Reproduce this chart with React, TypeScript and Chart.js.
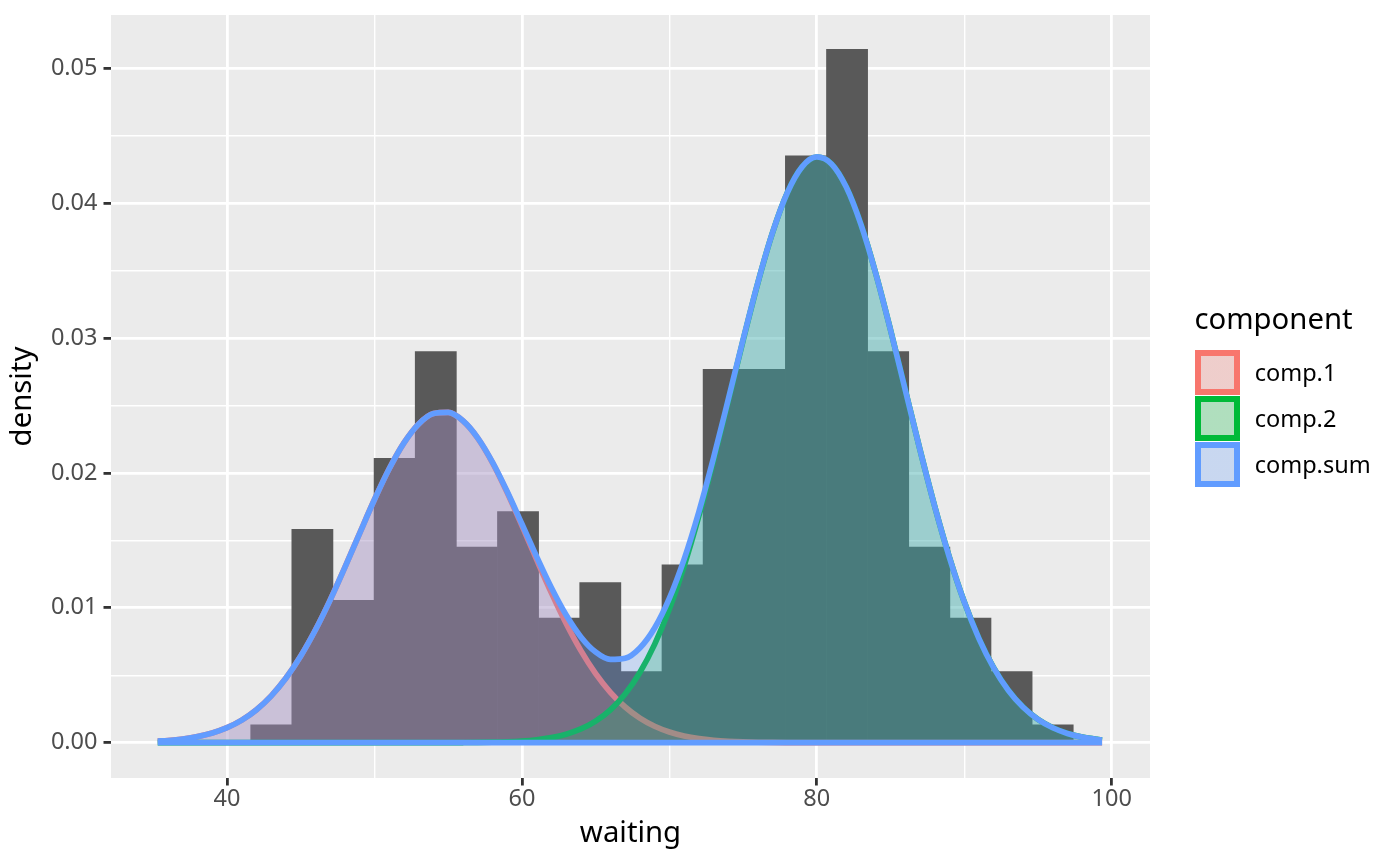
import { useEffect, useRef } from "react"
import { Chart, registerables } from "chart.js"
import type { Plugin } from "chart.js"

Chart.register(...registerables)

// histogram of waiting times (density per bin, 20 bins)
const binCenters = [
  43.0, 45.789, 48.579, 51.368, 54.158, 56.947, 59.737, 62.526, 65.316, 68.105,
  70.895, 73.684, 76.474, 79.263, 82.053, 84.842, 87.632, 90.421, 93.211, 96.0,
]
const binDensity = [
  0.00132, 0.01582, 0.01055, 0.02109, 0.029, 0.0145, 0.01714, 0.00923, 0.01186, 0.00527,
  0.01318, 0.02768, 0.02768, 0.0435, 0.05141, 0.029, 0.0145, 0.00923, 0.00527, 0.00132,
]

// mixture component curves
const curveX = [
  35.3, 36, 37, 38, 39, 40, 41, 42, 43, 44, 45, 46, 47, 48, 49, 50, 51, 52, 53, 54, 55,
  56, 57, 58, 59, 60, 61, 62, 63, 64, 65, 66, 67, 68, 69, 70, 71, 72, 73, 74, 75, 76,
  77, 78, 79, 80, 81, 82, 83, 84, 85, 86, 87, 88, 89, 90, 91, 92, 93, 94, 95, 96, 97,
  98, 99, 99.35,
]
const comp1 = [
  0.00011, 0.000161, 0.000273, 0.000448, 0.000715, 0.001108, 0.001668, 0.002441, 0.00347,
  0.00479, 0.006423, 0.008368, 0.010588, 0.013016, 0.015539, 0.018025, 0.020308, 0.022226,
  0.023629, 0.024403, 0.024481, 0.023857, 0.022583, 0.020766, 0.01855, 0.016095, 0.013567,
  0.011107, 0.008834, 0.006825, 0.005122, 0.003735, 0.002644, 0.001819, 0.001216, 0.000789,
  0.000498, 0.000305, 0.000181, 0.000105, 0.000059, 0.000032, 0.000017, 0.000009, 0.000004,
  0.000002, 0.000001, 0, 0, 0, 0, 0, 0, 0, 0, 0, 0, 0, 0, 0, 0, 0, 0, 0, 0, 0,
]
const comp2 = [
  0, 0, 0, 0, 0, 0, 0, 0, 0, 0, 0, 0, 0, 0, 0, 0, 0, 0, 0.000001, 0.000002, 0.000005,
  0.00001, 0.000019, 0.000037, 0.000068, 0.000124, 0.000219, 0.000376, 0.000627, 0.001015,
  0.001594, 0.002435, 0.003612, 0.005206, 0.007289, 0.009912, 0.013092, 0.0168, 0.02094,
  0.025353, 0.029819, 0.034068, 0.037809, 0.040761, 0.042686, 0.043423, 0.042909, 0.041189,
  0.038406, 0.034786, 0.030607, 0.02616, 0.02172, 0.017516, 0.013722, 0.010442, 0.00772,
  0.005544, 0.003867, 0.00262, 0.001724, 0.001102, 0.000685, 0.000413, 0.000242, 0.000199,
]
const compSum = [
  0.00011, 0.000161, 0.000273, 0.000448, 0.000715, 0.001108, 0.001668, 0.002441, 0.00347,
  0.00479, 0.006423, 0.008368, 0.010588, 0.013016, 0.015539, 0.018025, 0.020308, 0.022226,
  0.02363, 0.024405, 0.024486, 0.023867, 0.022602, 0.020803, 0.018618, 0.016219, 0.013786,
  0.011483, 0.009461, 0.00784, 0.006716, 0.00617, 0.006256, 0.007025, 0.008505, 0.010701,
  0.01359, 0.017105, 0.021121, 0.025458, 0.029878, 0.0341, 0.037826, 0.04077, 0.04269,
  0.043425, 0.04291, 0.041189, 0.038406, 0.034786, 0.030607, 0.02616, 0.02172, 0.017516,
  0.013722, 0.010442, 0.00772, 0.005544, 0.003867, 0.00262, 0.001724, 0.001102, 0.000685,
  0.000413, 0.000242, 0.000199,
]

const seriesNames = ["comp.1", "comp.2", "comp.sum"]
const seriesColors = ["#F8766D", "#00BA38", "#619CFF"]

const xMajor = [40, 60, 80, 100]
const xMinor = [50, 70, 90]
const xLabels = ["40", "60", "80", "100"]
const yMajor = [0, 0.01, 0.02, 0.03, 0.04, 0.05]
const yMinor = [0.005, 0.015, 0.025, 0.035, 0.045]
const yLabels = ["0.00", "0.01", "0.02", "0.03", "0.04", "0.05"]

const FONT = "'Noto Sans', sans-serif"
const LINE_W = 5.7

function fade(hex: string, alpha: number) {
  const n = parseInt(hex.slice(1), 16)
  return `rgba(${(n >> 16) & 255}, ${(n >> 8) & 255}, ${n & 255}, ${alpha})`
}

// grey panel behind the grid, like ggplot's theme_grey
const panelBackground: Plugin = {
  id: "panelBackground",
  beforeDraw(chart) {
    const { ctx, chartArea } = chart
    ctx.save()
    ctx.fillStyle = "#EBEBEB"
    ctx.fillRect(chartArea.left, chartArea.top, chartArea.width, chartArea.height)
    ctx.restore()
  },
}

function gridFor(major: number[]) {
  const isMajor = (c: any) => !!c.tick && major.includes(c.tick.value)
  return {
    offset: false,
    color: "#FFFFFF",
    lineWidth: (c: any) => (isMajor(c) ? 2.8 : 1.4),
    tickColor: (c: any) => (isMajor(c) ? "#333333" : "rgba(0,0,0,0)"),
    tickWidth: 2.8,
    tickLength: 7.5,
  }
}

export default function App() {
  const canvasRef = useRef<HTMLCanvasElement>(null)
  const chartRef = useRef<Chart | null>(null)

  useEffect(() => {
    document.body.style.margin = "0"
    if (!canvasRef.current) return
    if (chartRef.current) chartRef.current.destroy()

    const curves = [comp1, comp2, compSum]
    const last = curveX.length - 1

    chartRef.current = new Chart(canvasRef.current, {
      type: "line",
      data: {
        datasets: [
          {
            type: "bar",
            label: "count",
            data: binCenters.map((x, i) => ({ x, y: binDensity[i] })),
            backgroundColor: "#595959",
            borderWidth: 0,
            barPercentage: 1,
            categoryPercentage: 1,
            order: 4,
          } as any,
          ...curves.map((values, k) => ({
            type: "line",
            label: seriesNames[k],
            data: curveX.map((x, i) => ({ x, y: values[i] })),
            borderColor: seriesColors[k],
            backgroundColor: fade(seriesColors[k], 0.25),
            borderWidth: LINE_W,
            borderCapStyle: "butt",
            fill: "origin",
            pointRadius: 0,
            cubicInterpolationMode: "monotone",
            order: 3 - k,
          })),
          // bottom edge of the comp.sum area outline
          {
            type: "line",
            label: "comp.sum base",
            data: [
              { x: curveX[0], y: 0 },
              { x: curveX[last], y: 0 },
            ],
            borderColor: seriesColors[2],
            borderWidth: LINE_W,
            borderCapStyle: "butt",
            fill: false,
            pointRadius: 0,
            order: 0,
          },
        ],
      },
      options: {
        animation: false,
        responsive: true,
        maintainAspectRatio: false,
        events: [],
        layout: { padding: { left: 0, top: 15, right: 250, bottom: 0 } },
        font: { family: FONT },
        plugins: {
          legend: { display: false },
          tooltip: { enabled: false },
        },
        scales: {
          x: {
            type: "linear",
            min: 32.13,
            max: 102.6,
            offset: false,
            afterBuildTicks: (scale: any) => {
              scale.ticks = [...xMajor, ...xMinor].sort((a, b) => a - b).map((value) => ({ value }))
            },
            afterFit: (scale: any) => {
              scale.height = 88
              scale.paddingLeft = 0
              scale.paddingRight = 0
            },
            grid: gridFor(xMajor),
            border: { display: false },
            ticks: {
              autoSkip: false,
              maxRotation: 0,
              minRotation: 0,
              padding: 0,
              color: "#4D4D4D",
              font: { family: FONT, size: 23.5 },
              callback: (v: any) => {
                const i = xMajor.indexOf(Number(v))
                return i >= 0 ? xLabels[i] : ""
              },
            },
            title: {
              display: true,
              text: "waiting",
              color: "#000000",
              font: { family: FONT, size: 29.3 },
              padding: { top: 0, bottom: 15 },
            },
          },
          y: {
            type: "linear",
            min: -0.00262,
            max: 0.05395,
            afterBuildTicks: (scale: any) => {
              scale.ticks = [...yMajor, ...yMinor].sort((a, b) => a - b).map((value) => ({ value }))
            },
            afterFit: (scale: any) => {
              scale.width = 111
              scale.paddingTop = 0
              scale.paddingBottom = 0
            },
            grid: gridFor(yMajor),
            border: { display: false },
            ticks: {
              autoSkip: false,
              padding: 6,
              color: "#4D4D4D",
              font: { family: FONT, size: 23.5 },
              callback: (v: any) => {
                const i = yMajor.indexOf(Number(v))
                return i >= 0 ? yLabels[i] : ""
              },
            },
            title: {
              display: true,
              text: "density",
              color: "#000000",
              font: { family: FONT, size: 29.3 },
              padding: { top: 5, bottom: 0 },
            },
          },
        },
      },
      plugins: [panelBackground],
    })

    return () => {
      if (chartRef.current) {
        chartRef.current.destroy()
        chartRef.current = null
      }
    }
  }, [])

  return (
    <div style={{ position: "relative", width: 1400, height: 866, fontFamily: FONT, background: "#FFFFFF" }}>
      <canvas ref={canvasRef} />
      <div
        style={{
          position: "absolute",
          left: 1194.4,
          top: 303,
          fontSize: 29.3,
          lineHeight: "30px",
          color: "#000000",
          whiteSpace: "nowrap",
        }}
      >
        component
      </div>
      {seriesNames.map((name, k) => (
        <div key={name} style={{ position: "absolute", left: 1194.5, top: 349 + k * 46, height: 46 }}>
          <div
            style={{
              position: "absolute",
              left: 0,
              top: 0.5,
              width: 45,
              height: 45,
              boxSizing: "border-box",
              border: `6px solid ${seriesColors[k]}`,
              background: `linear-gradient(${fade(seriesColors[k], 0.25)}, ${fade(seriesColors[k], 0.25)}), #EBEBEB`,
            }}
          />
          <div
            style={{
              position: "absolute",
              left: 60.2,
              top: 0,
              fontSize: 23.5,
              lineHeight: "46px",
              color: "#000000",
              whiteSpace: "nowrap",
            }}
          >
            {name}
          </div>
        </div>
      ))}
    </div>
  )
}
